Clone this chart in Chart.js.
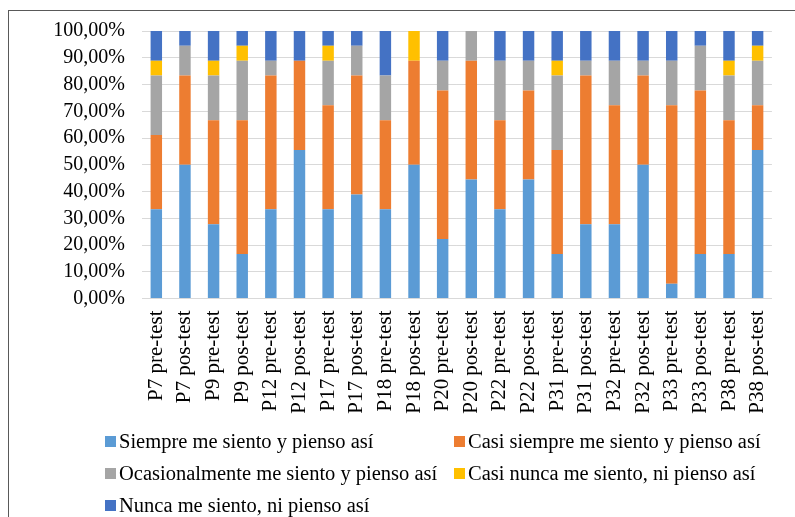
<!DOCTYPE html>
<html>
<head>
<meta charset="utf-8">
<script src="https://cdn.jsdelivr.net/npm/chart.js@4/dist/chart.umd.min.js"></script>
<style>
  html, body { margin: 0; padding: 0; background: #ffffff; }
  #wrap { position: relative; width: 795px; height: 517px; overflow: hidden; background: #ffffff; }
  #frame { position: absolute; left: 8px; top: 10px; width: 800px; height: 520px;
           border-top: 1px solid #595959; border-left: 1px solid #595959; box-sizing: border-box; }
  #chart { position: absolute; left: 0; top: 0; }
  #legend { position: absolute; left: 0; top: 0; width: 795px; height: 517px; pointer-events: none; }
  .item { position: absolute; display: flex; align-items: center; white-space: nowrap; line-height: 24px;
          font-family: "Liberation Serif", "Times New Roman", Times, serif; font-size: 20.5px; color: #000; }
  .item span { font-family: "Liberation Serif", "Times New Roman", Times, serif; }
  .box { width: 11px; height: 11px; margin-right: 3px; flex: none; }
</style>
</head>
<body>
<div id="wrap">
  <div id="frame"></div>
  <canvas id="chart" width="795" height="517"></canvas>
  <div id="legend"></div>
</div>
<script>
// Questions, before and after the intervention
const categories = [
  'P7 pre-test', 'P7 pos-test', 'P9 pre-test', 'P9 pos-test',
  'P12 pre-test', 'P12 pos-test', 'P17 pre-test', 'P17 pos-test',
  'P18 pre-test', 'P18 pos-test', 'P20 pre-test', 'P20 pos-test',
  'P22 pre-test', 'P22 pos-test', 'P31 pre-test', 'P31 pos-test',
  'P32 pre-test', 'P32 pos-test', 'P33 pre-test', 'P33 pos-test',
  'P38 pre-test', 'P38 pos-test'
];

// Share of answers (%) per response option
const siempre = [33.33, 50, 27.78, 16.67, 33.33, 55.56, 33.33, 38.89, 33.33, 50, 22.22,
                 44.44, 33.33, 44.44, 16.67, 27.78, 27.78, 50, 5.56, 16.67, 16.67, 55.56];
const casiSiempre = [27.78, 33.33, 38.89, 50, 50, 33.33, 38.89, 44.44, 33.33, 38.89, 55.56,
                     44.44, 33.33, 33.33, 38.89, 55.56, 44.44, 33.33, 66.67, 61.11, 50, 16.67];
const ocasionalmente = [22.22, 11.11, 16.67, 22.22, 5.56, 0, 16.67, 11.11, 16.67, 0, 11.11,
                        11.11, 22.22, 11.11, 27.78, 5.56, 16.67, 5.56, 16.67, 16.67, 16.67, 16.67];
const casiNunca = [5.56, 0, 5.56, 5.56, 0, 0, 5.56, 0, 0, 11.11, 0,
                   0, 0, 0, 5.56, 0, 0, 0, 0, 0, 5.56, 5.56];
const nunca = [11.11, 5.56, 11.11, 5.56, 11.11, 11.11, 5.56, 5.56, 16.67, 0, 11.11,
               0, 11.11, 11.11, 11.11, 11.11, 11.11, 11.11, 11.11, 5.56, 11.11, 5.56];

const seriesNames = [
  'Siempre me siento y pienso así',
  'Casi siempre me siento y pienso así',
  'Ocasionalmente me siento y pienso así',
  'Casi nunca me siento, ni pienso así',
  'Nunca me siento, ni pienso así'
];
const seriesValues = [siempre, casiSiempre, ocasionalmente, casiNunca, nunca];
const seriesColors = ['#5B9BD5', '#ED7D31', '#A5A5A5', '#FFC000', '#4472C4'];

const FONT = "'Liberation Serif', 'Times New Roman', serif";

const datasets = seriesNames.map((name, i) => ({
  label: name,
  data: seriesValues[i],
  backgroundColor: seriesColors[i],
  borderWidth: 0,
  categoryPercentage: 1,
  barPercentage: 0.4
}));

new Chart(document.getElementById('chart'), {
  type: 'bar',
  data: { labels: categories, datasets },
  options: {
    responsive: false,
    animation: false,
    layout: { padding: { left: 0, top: 31, right: 8, bottom: 0 } },
    plugins: { legend: { display: false }, tooltip: { enabled: false } },
    scales: {
      x: {
        stacked: true,
        grid: { display: false, drawTicks: false },
        border: { display: true, color: '#D9D9D9', width: 1 },
        ticks: {
          color: '#000', font: { family: FONT, size: 21 },
          minRotation: 90, maxRotation: 90, padding: 12, autoSkip: false
        },
        afterFit(scale) { scale.height = 218.5; }
      },
      y: {
        stacked: true,
        min: 0, max: 100,
        grid: { color: '#D9D9D9', lineWidth: 1, drawTicks: false },
        border: { display: false },
        ticks: {
          stepSize: 10, padding: 17, color: '#000', autoSkip: false,
          font: { family: FONT, size: 20 },
          callback: v => v.toFixed(2).replace('.', ',') + '%'
        },
        afterFit(scale) { scale.width = 142; }
      }
    }
  }
});

// Legend laid out in two columns below the axis labels
const legend = document.getElementById('legend');
const colX = [105, 454];
const rowY = [441, 473, 505];
seriesNames.forEach((name, i) => {
  const item = document.createElement('div');
  item.className = 'item';
  item.style.left = colX[i % 2] + 'px';
  item.style.top = (rowY[Math.floor(i / 2)] - 12) + 'px';
  const box = document.createElement('span');
  box.className = 'box';
  box.style.background = seriesColors[i];
  const txt = document.createElement('span');
  txt.textContent = name;
  item.appendChild(box);
  item.appendChild(txt);
  legend.appendChild(item);
});
</script>
</body>
</html>
